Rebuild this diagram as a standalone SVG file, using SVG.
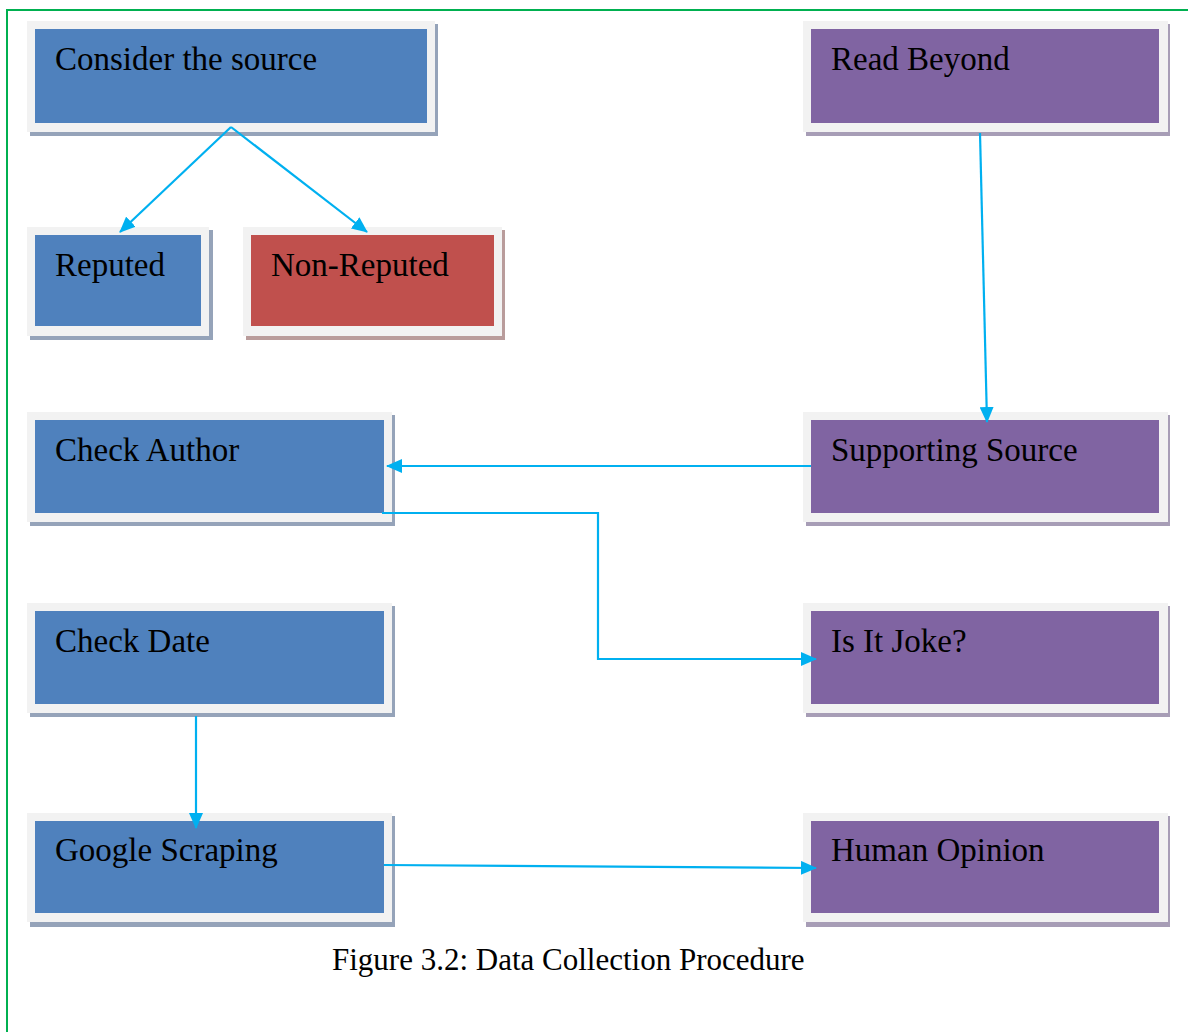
<svg xmlns="http://www.w3.org/2000/svg" width="1188" height="1032" viewBox="0 0 1188 1032">
<defs>
<style>
.frame{fill:none;stroke:#00B050;stroke-width:2}
.mat{fill:#F2F2F2}
.sb{fill:#95A3B9}
.sp{fill:#A79DB6}
.sr{fill:#B99C9B}
.blue{fill:#4F81BD}
.purple{fill:#8064A2}
.red{fill:#C0504D}
.t{font-family:"Liberation Serif","Times New Roman",serif;font-size:33px;fill:#000}
.cap{font-family:"Liberation Serif","Times New Roman",serif;font-size:31px;fill:#000}
.c{fill:none;stroke:#00B0F0;stroke-width:2.2}
</style>
<marker id="a" viewBox="0 0 16 14" refX="15" refY="7" markerWidth="16" markerHeight="14" orient="auto" markerUnits="userSpaceOnUse">
<path d="M0,0 L16,7 L0,14 z" fill="#00B0F0"/>
</marker>
</defs>
<rect width="1188" height="1032" fill="#fff"/>
<path class="frame" d="M7,1040 V10 H1200"/>

<g id="consider-source">
<rect class="sb" x="30" y="24" width="408" height="112"/>
<rect class="mat" x="27" y="21" width="408" height="111"/>
<rect class="blue" x="35" y="29" width="392" height="94"/>
<text class="t" x="55" y="70">Consider the source</text>
</g>
<g id="read-beyond">
<rect class="sp" x="806" y="24" width="364" height="112"/>
<rect class="mat" x="803" y="21" width="365" height="111"/>
<rect class="purple" x="811" y="29" width="348" height="94"/>
<text class="t" x="831" y="70">Read Beyond</text>
</g>
<g id="reputed">
<rect class="sb" x="30" y="230" width="183" height="110"/>
<rect class="mat" x="27" y="227" width="182" height="109"/>
<rect class="blue" x="35" y="235" width="166" height="91"/>
<text class="t" x="55" y="276">Reputed</text>
</g>
<g id="non-reputed">
<rect class="sr" x="246" y="230" width="259" height="110"/>
<rect class="mat" x="243" y="227" width="259" height="109"/>
<rect class="red" x="251" y="235" width="243" height="91"/>
<text class="t" x="271" y="276">Non-Reputed</text>
</g>
<g id="check-author">
<rect class="sb" x="30" y="415" width="365" height="111"/>
<rect class="mat" x="27" y="412" width="365" height="110"/>
<rect class="blue" x="35" y="420" width="349" height="93"/>
<text class="t" x="55" y="461">Check Author</text>
</g>
<g id="supporting-source">
<rect class="sp" x="806" y="415" width="364" height="111"/>
<rect class="mat" x="803" y="412" width="365" height="110"/>
<rect class="purple" x="811" y="420" width="348" height="93"/>
<text class="t" x="831" y="461">Supporting Source</text>
</g>
<g id="check-date">
<rect class="sb" x="30" y="606" width="365" height="111"/>
<rect class="mat" x="27" y="603" width="365" height="110"/>
<rect class="blue" x="35" y="611" width="349" height="93"/>
<text class="t" x="55" y="652">Check Date</text>
</g>
<g id="is-it-joke">
<rect class="sp" x="806" y="606" width="364" height="111"/>
<rect class="mat" x="803" y="603" width="365" height="110"/>
<rect class="purple" x="811" y="611" width="348" height="93"/>
<text class="t" x="831" y="652">Is It Joke?</text>
</g>
<g id="google-scraping">
<rect class="sb" x="30" y="816" width="365" height="111"/>
<rect class="mat" x="27" y="813" width="365" height="109"/>
<rect class="blue" x="35" y="821" width="349" height="92"/>
<text class="t" x="55" y="861">Google Scraping</text>
</g>
<g id="human-opinion">
<rect class="sp" x="806" y="816" width="364" height="111"/>
<rect class="mat" x="803" y="813" width="365" height="109"/>
<rect class="purple" x="811" y="821" width="348" height="92"/>
<text class="t" x="831" y="861">Human Opinion</text>
</g>

<g id="connectors">
<path class="c" d="M231,127 L120,232" marker-end="url(#a)"/>
<path class="c" d="M231,127 L367,232" marker-end="url(#a)"/>
<path class="c" d="M980,133 L987,422" marker-end="url(#a)"/>
<path class="c" d="M811,466 L387,466" marker-end="url(#a)"/>
<path class="c" d="M382,513 H598 V659 H816" marker-end="url(#a)"/>
<path class="c" d="M196,716 V828" marker-end="url(#a)"/>
<path class="c" d="M384,865 L816,868" marker-end="url(#a)"/>
</g>

<text class="cap" x="332" y="970">Figure 3.2: Data Collection Procedure</text>
</svg>
